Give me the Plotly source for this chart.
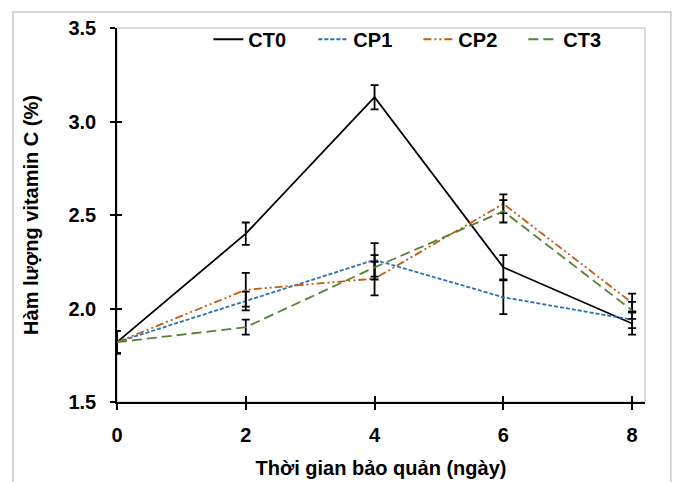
import plotly.graph_objects as go

days = [0, 2, 4, 6, 8]
series_names = ["CT0", "CP1", "CP2", "CT3"]
ct0 = [1.82, 2.40, 3.13, 2.22, 1.92]
ct0_err = [0.06, 0.06, 0.065, 0.065, 0.06]
cp1 = [1.82, 2.04, 2.26, 2.06, 1.94]
cp1_err = [0.06, 0.05, 0.09, 0.09, 0.045]
cp2 = [1.82, 2.10, 2.16, 2.56, 2.03]
cp2_err = [0.06, 0.09, 0.09, 0.05, 0.05]
ct3 = [1.82, 1.90, 2.22, 2.52, 1.99]
ct3_err = [0.06, 0.04, 0.065, 0.06, 0.045]
x_ticks = [0, 2, 4, 6, 8]
y_ticks = [1.5, 2.0, 2.5, 3.0, 3.5]

values = [ct0, cp1, cp2, ct3]
errors = [ct0_err, cp1_err, cp2_err, ct3_err]
colors = ["#000000", "#2E6DB4", "#C55A11", "#548235"]
dashes = ["solid", "4px,2px", "8px,3px,2px,3px,2px,3px", "10px,5px"]

FONT = "Liberation Sans"

fig = go.Figure()
for name, v, e, c, d in zip(series_names, values, errors, colors, dashes):
    fig.add_trace(go.Scatter(
        x=days, y=v, name=name, mode="lines",
        line=dict(color=c, width=1.8, dash=d),
        error_y=dict(type="data", array=e, visible=True, color="#000000",
                     thickness=1.8, width=4),
    ))

# dummy trace so the overlay axes (inner half of cross ticks) get drawn
fig.add_trace(go.Scatter(x=[None], y=[None], xaxis="x2", yaxis="y2",
                         showlegend=False, hoverinfo="skip"))

tickfont = dict(family=FONT, size=20, color="#000000", weight="bold")
titlefont = dict(family=FONT, size=20, color="#000000", weight="bold")
fig.update_layout(
    width=675, height=482,
    margin=dict(l=117, r=30, t=28, b=80),
    paper_bgcolor="white", plot_bgcolor="white",
    font=dict(family=FONT, color="#000000"),
    xaxis=dict(
        range=[0, 8.2], tickvals=x_ticks, ticks="outside", ticklen=6,
        tickwidth=1.5, tickcolor="black", showline=True, linecolor="black",
        linewidth=1.5, showgrid=False, zeroline=False, automargin=False,
        tickfont=tickfont, ticklabelstandoff=8,
        title=dict(text="Thời gian bảo quản (ngày)", font=titlefont,
                   standoff=16),
    ),
    yaxis=dict(
        range=[1.5, 3.5], tickvals=y_ticks, tickformat=".1f", ticks="outside",
        ticklen=5, tickwidth=1.5, tickcolor="black", showline=True,
        linecolor="black", linewidth=1.5, showgrid=False, zeroline=False,
        automargin=False,
        tickfont=tickfont, ticklabelstandoff=10,
        title=dict(text="Hàm lượng vitamin C (%)", font=titlefont,
                   standoff=24),
    ),
    xaxis2=dict(overlaying="x", range=[0, 8.2], tickvals=x_ticks,
                ticks="inside", ticklen=6, tickwidth=1.5, tickcolor="black",
                showticklabels=False, showgrid=False, zeroline=False,
                showline=False),
    yaxis2=dict(overlaying="y", range=[1.5, 3.5], tickvals=y_ticks,
                ticks="inside", ticklen=5, tickwidth=1.5, tickcolor="black",
                showticklabels=False, showgrid=False, zeroline=False,
                showline=False),
    legend=dict(orientation="h", x=0.173, xanchor="left", y=1.022,
                yanchor="top",
                font=dict(family=FONT, size=20, weight="bold"),
                bgcolor="rgba(0,0,0,0)", itemwidth=30,
                entrywidth=60, tracegroupgap=0),
    showlegend=True,
    shapes=[
        dict(type="rect", xref="paper", yref="paper", x0=0, x1=1, y0=0, y1=1,
             line=dict(color="#D0D0D0", width=1.5), layer="below"),
        dict(type="rect", xref="paper", yref="paper", x0=-0.197, x1=1.049,
             y0=-0.25, y1=1.043, line=dict(color="#C8C8C8", width=1.5),
             layer="below"),
    ],
)

fig.write_html("out.html")
